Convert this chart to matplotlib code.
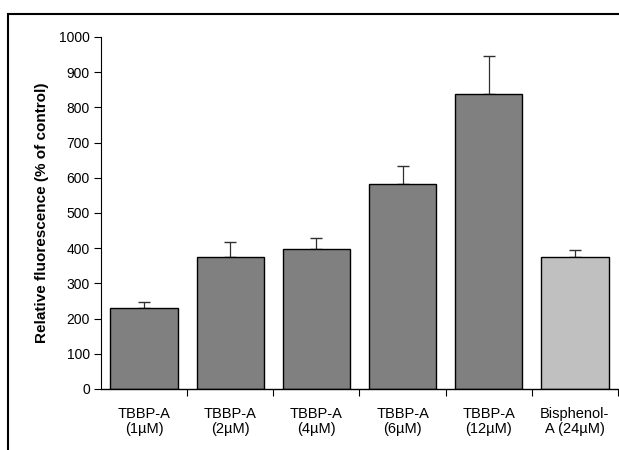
import matplotlib
matplotlib.use("Agg")
import matplotlib.pyplot as plt
from matplotlib.patches import Rectangle
from matplotlib.ticker import FixedLocator, NullFormatter

plt.rcParams['font.family'] = ['Liberation Sans', 'DejaVu Sans']

# Daten aus der Abbildung
labels = ["TBBP-A\n(1µM)", "TBBP-A\n(2µM)", "TBBP-A\n(4µM)",
          "TBBP-A\n(6µM)", "TBBP-A\n(12µM)", "Bisphenol-\nA (24µM)"]
werte = [230, 374, 397, 583, 837, 374]
fehler = [18, 45, 33, 50, 110, 20]
farben = ["#808080"] * 5 + ["#C0C0C0"]

fig = plt.figure(figsize=(6.19, 4.5), dpi=100)
ax = fig.add_axes([101 / 619, 1 - 389 / 450, 517 / 619, 352 / 450])

x = list(range(len(werte)))
ax.bar(x, werte, width=0.78, color=farben, edgecolor="black", linewidth=1.0, zorder=2)
ax.errorbar(x, werte, yerr=[[0] * len(fehler), fehler], fmt="none",
            ecolor="#303030", elinewidth=0.9, capsize=4, capthick=1.0, zorder=1)

ax.set_xlim(-0.5, len(werte) - 0.5)
ax.set_ylim(0, 1000)
ax.set_yticks(range(0, 1001, 100))
ax.tick_params(axis="y", direction="out", length=5, width=0.8, labelsize=10, pad=3)

# Striche zwischen den Kategorien, Beschriftung in der Mitte
ax.xaxis.set_major_locator(FixedLocator([i + 0.5 for i in range(len(werte))]))
ax.xaxis.set_major_formatter(NullFormatter())
ax.xaxis.set_minor_locator(FixedLocator(x))
ax.set_xticklabels(labels, minor=True, linespacing=1.1)
ax.tick_params(axis="x", which="major", direction="out", length=5, width=0.8)
ax.tick_params(axis="x", which="minor", length=0, labelsize=10.5, pad=13)

ax.spines["top"].set_visible(False)
ax.spines["right"].set_visible(False)
ax.spines["left"].set_linewidth(0.8)
ax.spines["bottom"].set_linewidth(1.0)

ax.set_ylabel("Relative fluorescence (% of control)", fontsize=11, fontweight="bold", labelpad=7)

# Rahmen um die Grafik
fig.patches.append(Rectangle((8 / 619, -0.1), 1.2, 1.1 - 14 / 450, transform=fig.transFigure,
                             fill=False, edgecolor="black", linewidth=1.5))

fig.savefig("out.png", dpi=100)
